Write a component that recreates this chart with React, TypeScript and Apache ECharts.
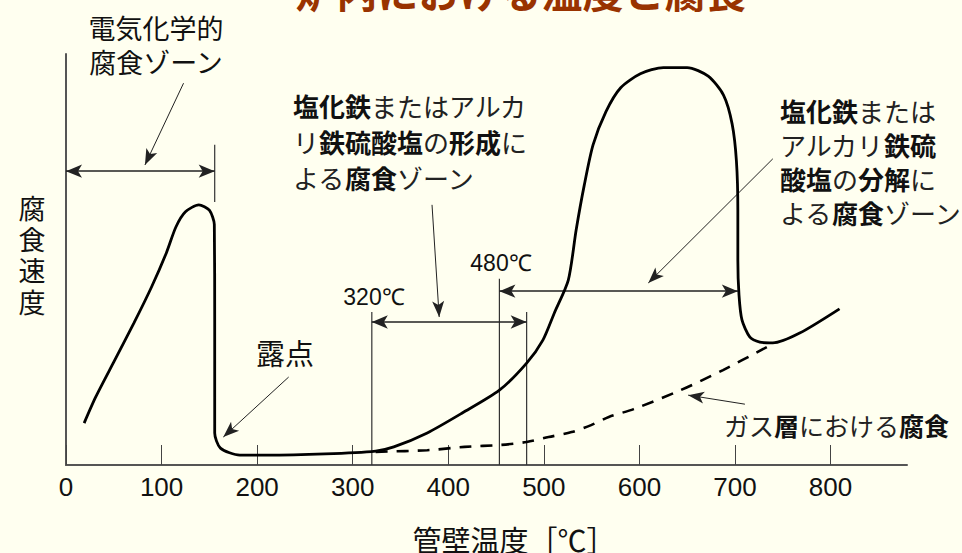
import React, { useEffect, useRef } from "react";
import * as echarts from "echarts";

// x: tube wall temperature [°C], y: corrosion rate (relative, 0-100)
const mainCurve: [number, number][] = [
  [19, 10.2], [31, 16.5], [51, 25.5], [71, 34.5], [89.5, 43.3], [105, 51.6],
  [115, 57.9], [125, 61.6], [139, 63.3], [150, 62.0], [155.2, 58.5],
  [155.6, 34.5], [155.6, 7.8], [161.6, 4.1], [181.8, 2.4], [209, 2.4],
  [271, 2.7], [324, 3.4], [343, 4.4], [378, 7.8], [415, 12.7], [453.5, 18.2],
  [482, 24.8], [499, 30.4], [511, 37.0], [525.6, 45.0], [533.8, 57.2],
  [542.3, 68.1], [551.5, 77.9], [565, 86.0], [580.4, 91.8], [601, 95.2],
  [625, 96.7], [650, 96.7], [672, 94.6], [688, 90.0], [697, 83.0],
  [701.5, 74.0], [703, 62.0], [703, 49.9], [704.2, 41.4], [707.3, 35.3],
  [715.6, 31.1], [726, 29.9], [739.6, 29.7], [767.7, 32.1], [809.4, 38.0],
];
const gasLayerCurve: [number, number][] = [
  [324, 3.2], [378, 3.6], [417, 4.4], [455.6, 4.9], [482, 5.6], [505, 6.8],
  [529, 8.0], [549.5, 9.7], [568, 11.7], [594, 13.6], [643, 18.2],
  [687.5, 23.1], [733.3, 28.7],
];
const xTicks = [0, 100, 200, 300, 400, 500, 600, 700, 800];

// annotation lines (data units)
const verticalLines: [number, number, number][] = [
  // [temperature, yFrom, yTo]
  [155.6, 64, 77.9],
  [320, 0, 37.2],
  [453.5, 0, 45.3],
  [482, 0, 37.2],
];
const doubleArrows: [number, number, number][] = [
  // [xFrom, xTo, y]
  [0, 155.6, 71.5],
  [320, 482, 34.8],
  [453.5, 703, 42.3],
];
const pointerArrows: [number, number, number, number][] = [
  // [xFrom, yFrom, xTo, yTo]
  [123, 92.9, 82.6, 73.0],
  [383, 63.3, 390.5, 36.0],
  [739.6, 74.5, 609.3, 44.3],
  [233, 21.4, 164.6, 6.8],
  [710.4, 14.8, 651, 17.0],
];

const FONT = '"Noto Sans CJK JP", "Noto Sans CJK SC", sans-serif';

function richify(s: string): string {
  const parts: string[] = [];
  let cur = "";
  let curK: boolean | null = null;
  for (const ch of s) {
    const k = /[\u4e00-\u9fff]/.test(ch);
    if (curK === null || k === curK) {
      cur += ch;
    } else {
      parts.push(`{${curK ? "k" : "n"}|${cur}}`);
      cur = ch;
    }
    curK = k;
  }
  if (cur) parts.push(`{${curK ? "k" : "n"}|${cur}}`);
  return parts.join("");
}

function richText(lines: string[], x: number, y: number, size: number, lh: number, align = "left") {
  return {
    type: "text",
    x,
    y,
    style: {
      text: lines.map(richify).join("\n"),
      align,
      verticalAlign: "top",
      rich: {
        k: { fontFamily: FONT, fontSize: size, fontWeight: "bold", fill: "#111", lineHeight: lh },
        n: { fontFamily: FONT, fontSize: size, fontWeight: "normal", fill: "#222", lineHeight: lh },
      },
    },
  };
}

function plainText(text: string, x: number, y: number, size: number, opts: any = {}) {
  return {
    type: "text",
    x,
    y,
    style: {
      text,
      fontFamily: opts.family || FONT,
      fontSize: size,
      fontWeight: opts.weight || "normal",
      fill: opts.fill || "#111",
      align: opts.align || "center",
      verticalAlign: opts.valign || "middle",
      lineHeight: opts.lh,
    },
  };
}

export default function App() {
  const ref = useRef<HTMLDivElement>(null);
  useEffect(() => {
    if (!ref.current) return;
    const chart = echarts.init(ref.current, undefined, { renderer: "svg" });
    const option: any = {
      animation: false,
      backgroundColor: "#FFFFF0",
      grid: { left: 66, right: 55, top: 54, bottom: 88 },
      xAxis: {
        type: "value",
        min: 0,
        max: 880,
        interval: 100,
        axisLine: { show: true, onZero: false, lineStyle: { color: "#555", width: 2 } },
        axisTick: {
          show: true,
          inside: true,
          length: 20,
          customValues: xTicks,
          lineStyle: { color: "#444", width: 1 },
        },
        axisLabel: {
          show: true,
          margin: 9,
          fontSize: 26,
          color: "#111",
          customValues: xTicks,
          fontFamily: '"Liberation Sans", Arial, sans-serif',
        },
        splitLine: { show: false },
      },
      yAxis: {
        type: "value",
        min: 0,
        max: 100,
        axisLine: { show: true, onZero: false, lineStyle: { color: "#555", width: 2 } },
        axisTick: { show: false },
        axisLabel: { show: false },
        splitLine: { show: false },
      },
      series: [
        {
          type: "line",
          data: mainCurve,
          smooth: 0.25,
          showSymbol: false,
          lineStyle: { color: "#000", width: 2.8 },
          z: 5,
        },
        {
          type: "line",
          data: gasLayerCurve,
          smooth: 0.3,
          showSymbol: false,
          lineStyle: { color: "#000", width: 2.6, type: [12, 9] },
          z: 5,
        },
        ...verticalLines.map(([x, y0, y1]) => ({
          type: "line",
          data: [[x, y0], [x, y1]],
          showSymbol: false,
          lineStyle: { color: "#333", width: 1.2 },
          z: 3,
        })),
        {
          type: "line",
          data: [],
          markLine: {
            silent: true,
            symbol: ["arrow", "arrow"],
            symbolSize: [10, 16],
            label: { show: false },
            lineStyle: { color: "#222", width: 1.6, type: "solid" },
            data: doubleArrows.map(([x0, x1, y]) => [{ coord: [x0, y] }, { coord: [x1, y] }]),
          },
        },
        {
          type: "line",
          data: [],
          markLine: {
            silent: true,
            symbol: ["none", "arrow"],
            symbolSize: [9, 16],
            label: { show: false },
            lineStyle: { color: "#222", width: 1, type: "solid" },
            data: pointerArrows.map(([x0, y0, x1, y1]) => [{ coord: [x0, y0] }, { coord: [x1, y1] }]),
          },
        },
      ],
      graphic: [
        plainText("炉内における温度と腐食", 521, 10, 41, { weight: "bold", fill: "#993300", valign: "bottom" }),
        plainText("電気化学的\n腐食ゾーン", 156, 44, 27, { lh: 34 }),
        richText(["塩化鉄またはアルカ", "リ鉄硫酸塩の形成に", "よる腐食ゾーン"], 293, 87, 26, 36),
        richText(["塩化鉄または", "アルカリ鉄硫", "酸塩の分解に", "よる腐食ゾーン"], 780, 93, 26, 34),
        plainText("320℃", 374, 297, 23, { family: '"Liberation Sans", Arial, sans-serif' }),
        plainText("480℃", 501, 263, 23, { family: '"Liberation Sans", Arial, sans-serif' }),
        plainText("露点", 285, 352, 29),
        richText(["ガス層における腐食"], 724, 410, 25, 30),
        plainText("腐", 32, 207, 27),
        plainText("食", 32, 238, 27),
        plainText("速", 32, 269, 27),
        plainText("度", 32, 301, 27),
        plainText("管壁温度［℃］", 514, 539, 29),
      ],
    };
    chart.setOption(option);
    return () => chart.dispose();
  }, []);
  return (
    <div
      ref={ref}
      style={{ position: "fixed", left: 0, top: 0, width: 962, height: 553 }}
    />
  );
}
